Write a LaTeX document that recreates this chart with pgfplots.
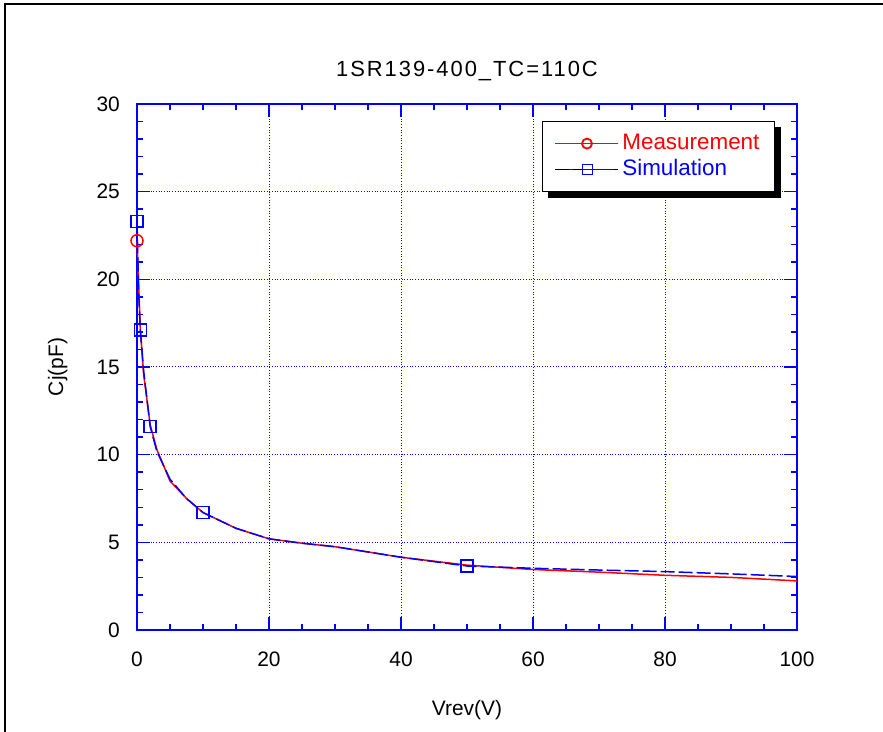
\documentclass[border=0pt]{standalone}
\usepackage{fontspec}
\setmainfont{Liberation Sans}
\newfontfamily\titlefont[LetterSpace=9]{Liberation Sans}
\usepackage{pgfplots}
\pgfplotsset{compat=1.18}

\begin{document}
\begin{tikzpicture}
\useasboundingbox (0bp,0bp) rectangle (883bp,732bp);
% outer frame (left and top only)
\draw[line width=2bp, black] (5bp,0bp) -- (5bp,728bp) -- (883bp,728bp);

\begin{axis}[
    at={(137bp,102bp)}, anchor=south west,
    scale only axis,
    width=660bp, height=526bp,
    xmin=0, xmax=100, ymin=0, ymax=30,
    xtick={0,20,40,60,80,100},
    ytick={0,5,10,15,20,25,30},
    minor x tick num=3,
    minor y tick num=4,
    clip=false,
    font=\fontsize{21}{25}\selectfont,
    /pgf/number format/assume math mode=true,
    axis line style={blue, line width=2bp},
    every tick/.style={blue, line width=1.5bp},
    major tick length=13bp,
    minor tick length=6bp,
    grid=major,
    major grid style={blue, line width=1bp, dash pattern=on 1bp off 1.7bp},
    xticklabel style={inner sep=0pt, anchor=north, yshift=-22bp},
    yticklabel style={inner sep=0pt, anchor=east, xshift=-17bp},
    title={1SR139-400\_TC=110C},
    title style={at={(0.5,1)}, anchor=base, yshift=22bp, inner sep=0pt,
        font=\titlefont\fontsize{22}{26}\selectfont},
    xlabel={Vrev(V)},
    xlabel style={at={(0.5,0)}, anchor=base, yshift=-85bp, inner sep=0pt},
    every axis y label/.style={at={(0,0.5)}, xshift=-74bp, rotate=90,
        anchor=base, inner sep=0pt},
    ylabel={Cj(pF)},
    legend style={name=leg, at={(0.6136,0.9677)}, anchor=north west,
        draw=black, line width=1.2bp, fill=white,
        inner xsep=12bp, inner ysep=9bp, row sep=0pt,
        font=\fontsize{22.5}{26}\selectfont,
        nodes={inner xsep=3bp, inner ysep=3.5bp, text height=15bp, text depth=4bp}},
    legend cell align=left,
]

% legend images
\addlegendimage{legend image code/.code={
    \draw[red, line width=1.8bp] (0bp,0bp) -- (63bp,0bp);
    \draw[red, line width=1.8bp] (31.5bp,0bp) circle (5bp);}}
\addlegendentry[text=red]{Measurement}
\addlegendimage{legend image code/.code={
    \path (0bp,0bp) -- (63bp,0bp);
    \draw[blue, line width=1.8bp] (14bp,0bp) -- (18bp,0bp);
    \draw[blue, line width=1.8bp] (27bp,0bp) -- (59bp,0bp);
    \draw[blue, line width=1.8bp] (27bp,-5bp) rectangle (37bp,5bp);}}
\addlegendentry[text=blue]{Simulation}

% Measurement
\addplot[red, line width=1.5bp, mark=o, mark size=6bp, mark indices={1},
    mark options={solid, line width=1.5bp}, forget plot]
    coordinates {
    (0,22.2) (0.25,19.6) (0.5,17.2) (1,14.6) (2,11.7) (3,10.3) (5,8.5)
    (7.5,7.5) (10,6.7) (15,5.8) (20,5.2) (25,4.95) (30,4.75) (40,4.15)
    (50,3.7) (60,3.45) (70,3.3) (80,3.12) (90,3.0) (100,2.8)
    };

% Simulation
\addplot[blue, line width=1.5bp, dash pattern=on 14bp off 4bp,
    mark=square, mark size=6bp, mark indices={1,3,5,9,15},
    mark options={solid, line width=1.5bp}, forget plot]
    coordinates {
    (0,23.3) (0.25,19.3) (0.5,17.1) (1,14.8) (2,11.6) (3,10.2) (5,8.6)
    (7.5,7.5) (10,6.7) (15,5.8) (20,5.2) (25,4.95) (30,4.75) (40,4.15)
    (50,3.65) (60,3.52) (70,3.42) (80,3.33) (90,3.2) (100,3.05)
    };

\end{axis}
% legend drop shadow
\fill[black] ([yshift=-6bp]leg.north east) rectangle ([xshift=6bp,yshift=-6bp]leg.south east);
\fill[black] ([xshift=6bp]leg.south west) rectangle ([xshift=6bp,yshift=-6bp]leg.south east);
\end{tikzpicture}
\end{document}
